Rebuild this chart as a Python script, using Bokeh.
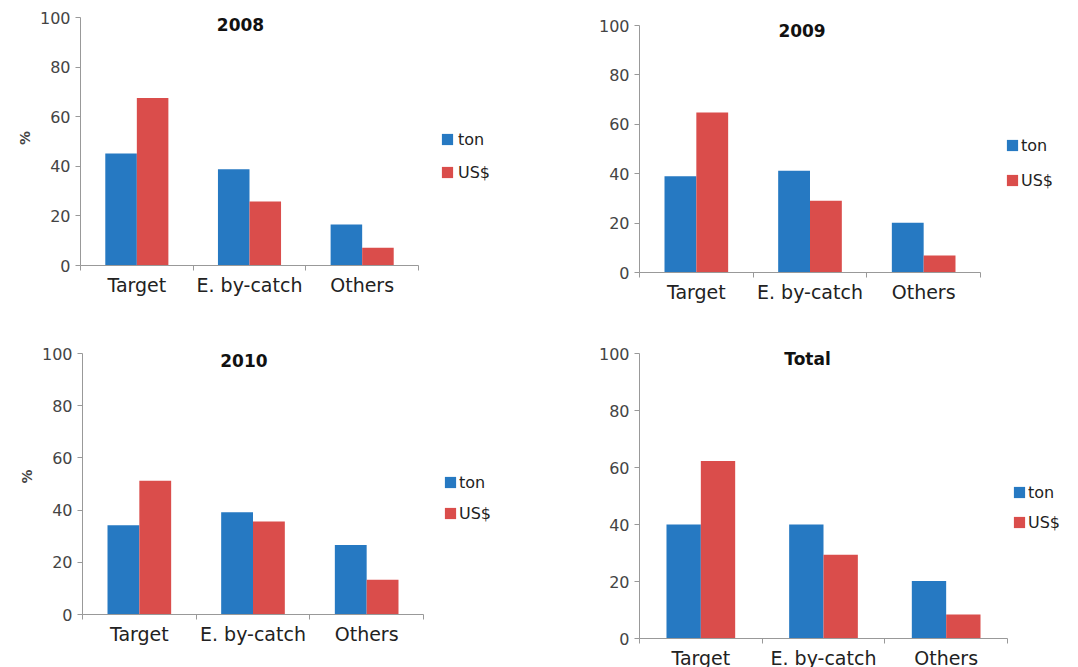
import numpy as np
from bokeh.plotting import figure
from bokeh.models import (ColumnDataSource, Range1d, FixedTicker,
                          Legend, LegendItem, Label)
from bokeh.layouts import column, row
from bokeh.transform import dodge
from bokeh.embed import file_html
from bokeh.resources import INLINE

categories = ["Target", "E. by-catch", "Others"]
ton_2008 = [45.2, 38.8, 16.5]
usd_2008 = [67.5, 25.8, 7.2]
ton_2009 = [39.0, 41.2, 20.1]
usd_2009 = [64.8, 29.0, 6.9]
ton_2010 = [34.2, 39.2, 26.6]
usd_2010 = [51.2, 35.6, 13.3]
ton_total = [40.0, 40.0, 20.2]
usd_total = [62.3, 29.4, 8.4]
y_ticks = [0, 20, 40, 60, 80, 100]

BLUE = "#2679C2"
RED = "#DA4D4B"
FONT = "DejaVu Sans"

panels = [
    # title, ton, usd, total w, total h, cat-area w, frame h(0..100), left, top(at 100), ylabel, title_xy, legend_loc, spacing, standoff
    ("2008", ton_2008, usd_2008, 540, 320, 338, 248, 80, 17, "%", (1.92, 97.2), (360, 83), 13, 4),
    ("2009", ton_2009, usd_2009, 538, 320, 341, 247, 99, 25, None, (1.93, 98.0), (366, 82), 15, 2),
    ("2010", ton_2010, usd_2010, 540, 347, 341, 261, 82, 33, "%", (1.92, 97.3), (361, 91), 11, 2),
    ("Total", ton_total, usd_total, 538, 347, 368, 285, 99, 28, None, (1.87, 98.2), (373, 106), 10, 2),
]

pos = list(range(1, len(categories) + 1))

figs = []
for (title, ton, usd, W, H, cw, fh, bl, bt, ylab, txy, lloc, spacing, standoff) in panels:
    extra = min(15, bt - 10)
    fw = W - bl
    bb = H - bt - fh
    src = ColumnDataSource(dict(x=pos, ton=ton, usd=usd))
    p = figure(x_range=Range1d(0.5, 0.5 + 3 * fw / cw),
               y_range=Range1d(0, 100 + extra * 100 / fh),
               frame_width=fw, frame_height=fh + extra,
               output_backend="svg", toolbar_location=None,
               min_border_left=bl, min_border_right=0,
               min_border_top=bt - extra, min_border_bottom=bb)
    p.outline_line_color = None
    p.grid.grid_line_color = None
    r1 = p.vbar(x=dodge("x", -0.14), top="ton", width=0.28, source=src,
                color=BLUE, line_color=None)
    r2 = p.vbar(x=dodge("x", 0.14), top="usd", width=0.28, source=src,
                color=RED, line_color=None)

    p.yaxis.ticker = FixedTicker(ticks=y_ticks)
    p.yaxis.bounds = (0, 100)
    p.yaxis.minor_tick_line_color = None
    p.yaxis.major_tick_in = 0
    p.yaxis.major_tick_out = 5
    p.yaxis.major_label_standoff = 5
    p.yaxis.major_label_text_font = FONT
    p.yaxis.major_label_text_font_size = "16px"
    p.yaxis.major_label_text_color = "#444444"
    p.yaxis.axis_line_color = "#999999"
    p.yaxis.major_tick_line_color = "#999999"
    if ylab:
        p.yaxis.axis_label = ylab
        p.yaxis.axis_label_text_font = FONT
        p.yaxis.axis_label_text_font_style = "bold"
        p.yaxis.axis_label_text_font_size = "14px"
        p.yaxis.axis_label_standoff = 4

    p.xaxis.ticker = FixedTicker(ticks=pos,
                                 minor_ticks=[k - 0.5 for k in pos] + [pos[-1] + 0.5])
    p.xaxis.major_label_overrides = {k: c for k, c in zip(pos, categories)}
    p.xaxis.bounds = (0.5, len(categories) + 0.5)
    p.xaxis.major_tick_line_color = None
    p.xaxis.major_tick_out = 0
    p.xaxis.minor_tick_in = 0
    p.xaxis.minor_tick_out = 5
    p.xaxis.minor_tick_line_color = "#999999"
    p.xaxis.major_label_standoff = 3
    p.xaxis.major_label_text_font = FONT
    p.xaxis.major_label_text_font_size = "19px"
    p.xaxis.major_label_text_color = "#222222"
    p.xaxis.axis_line_color = "#999999"

    p.add_layout(Label(x=txy[0], y=txy[1], text=title, text_font=FONT,
                       text_font_style="bold", text_font_size="17px",
                       text_align="center", text_baseline="middle",
                       text_color="#111111"))

    legend = Legend(items=[LegendItem(label="ton", renderers=[r1]),
                           LegendItem(label="US$", renderers=[r2])],
                    location=lloc, orientation="vertical",
                    glyph_width=14, glyph_height=14, label_height=20,
                    spacing=spacing, label_standoff=standoff, padding=0,
                    margin=0, border_line_color=None,
                    background_fill_alpha=0,
                    label_text_font=FONT, label_text_font_size="16px",
                    label_text_color="#222222")
    p.add_layout(legend, "center")
    figs.append(p)

layout = column(row(figs[0], figs[1], spacing=0), row(figs[2], figs[3], spacing=0), spacing=0)
open("out.html", "w").write(file_html(layout, INLINE))
